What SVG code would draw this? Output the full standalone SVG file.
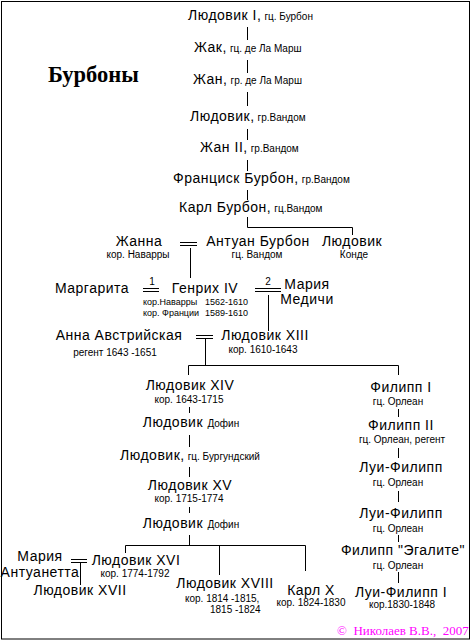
<svg xmlns="http://www.w3.org/2000/svg" width="473" height="642" viewBox="0 0 473 642">
<style>
.n{font-family:"Liberation Sans",Arial,sans-serif;font-size:14px;letter-spacing:0.5px;fill:#000}
.s{font-family:"Liberation Sans",Arial,sans-serif;font-size:10px;letter-spacing:0;fill:#000}
.xs{font-size:9px}
.m{text-anchor:middle}
.e{text-anchor:end}
.title{font-family:"Liberation Serif","Times New Roman",serif;font-size:22.5px;font-weight:bold;fill:#000}
.copy{font-family:"Liberation Serif","Times New Roman",serif;font-size:13px;fill:#f0f}
.ln{stroke:#000;stroke-width:1;fill:none}
</style>
<rect x="1.5" y="1.5" width="468" height="637.5" fill="#fff" stroke="#000" stroke-width="1"/>
<text class="title" x="48" y="82">Бурбоны</text>

<g id="connectors" class="ln">
<path d="M247.5 27V40M247.5 60V73M247.5 92V106M247.5 129V140M247.5 160V171M247.5 190V200M247.5 217V227.5H352.5V235"/>
<path d="M180 242.5H197M180 245.5H197M190.5 248V278"/>
<path d="M143 288.5H159M143 291.5H159"/>
<path d="M255 288.5H281M255 291.5H281M268.5 295V331"/>
<path d="M196 335.5H213M196 338.5H213M205.5 339V365.5"/>
<path d="M188.5 375V365.5H398.5V375"/>
<path d="M189.5 407V413M189.5 435V447M189.5 467V477M189.5 507V513M189.5 535V545.5"/>
<path d="M125.5 553V545.5H305.5V571M219.5 545.5V575"/>
<path d="M71 559.5H87M71 562.5H87M80.5 563V585"/>
<path d="M398.5 409V417M398.5 448V458M398.5 491V502M398.5 535V542M398.5 572V583"/>
</g>

<g id="ludovik1"><text class="n" x="188" y="20">Людовик I,<tspan class="s" dx="3">гц. Бурбон</tspan></text></g>
<g id="zhak"><text class="n" x="194" y="52">Жак,<tspan class="s" dx="3">гц. де Ла Марш</tspan></text></g>
<g id="zhan"><text class="n" x="193" y="84">Жан,<tspan class="s" dx="3">гр. де Ла Марш</tspan></text></g>
<g id="ludovik-vandom"><text class="n" x="190" y="121">Людовик,<tspan class="s" dx="3">гр.Вандом</tspan></text></g>
<g id="zhan2"><text class="n" x="200" y="152">Жан II,<tspan class="s" dx="3">гр.Вандом</tspan></text></g>
<g id="francisk"><text class="n" x="173" y="183">Франциск Бурбон,<tspan class="s" dx="3">гр.Вандом</tspan></text></g>
<g id="karl"><text class="n" x="179" y="212">Карл Бурбон,<tspan class="s" dx="3">гц.Вандом</tspan></text></g>

<g id="zhanna"><text class="n m" x="139" y="246">Жанна</text><text class="s m" x="138" y="258">кор. Наварры</text></g>
<g id="antuan"><text class="n m" x="258" y="246">Антуан Бурбон</text><text class="s m" x="257" y="258">гц. Вандом</text></g>
<g id="ludovik-konde"><text class="n m" x="352" y="246">Людовик</text><text class="s m" x="354" y="258">Конде</text></g>

<g id="margarita"><text class="n m" x="92" y="293">Маргарита</text><text class="s m" x="152" y="285">1</text></g>
<g id="genrih4"><text class="n m" x="205" y="293">Генрих IV</text><text class="s xs" x="143" y="305">кор.Наварры</text><text class="s xs e" x="248" y="305">1562-1610</text><text class="s xs" x="143" y="316">кор. Франции</text><text class="s xs e" x="248" y="316">1589-1610</text></g>
<g id="maria-medichi"><text class="s m" x="268" y="285">2</text><text class="n m" x="307" y="289">Мария</text><text class="n m" x="307" y="304">Медичи</text></g>

<g id="anna"><text class="n m" x="119" y="340">Анна Австрийская</text><text class="s m" x="115" y="356">регент 1643 -1651</text></g>
<g id="ludovik13"><text class="n m" x="265" y="340">Людовик XIII</text><text class="s m" x="263" y="353">кор. 1610-1643</text></g>

<g id="ludovik14"><text class="n m" x="190" y="390">Людовик XIV</text><text class="s m" x="189" y="403">кор. 1643-1715</text></g>
<g id="ludovik-dofin1"><text class="n m" x="191" y="427">Людовик <tspan class="s">Дофин</tspan></text></g>
<g id="ludovik-burg"><text class="n m" x="190" y="460">Людовик,<tspan class="s" dx="3">гц. Бургундский</tspan></text></g>
<g id="ludovik15"><text class="n m" x="190" y="490">Людовик XV</text><text class="s m" x="189" y="502">кор. 1715-1774</text></g>
<g id="ludovik-dofin2"><text class="n m" x="191" y="528">Людовик <tspan class="s">Дофин</tspan></text></g>

<g id="maria-antuanetta"><text class="n m" x="40" y="561">Мария</text><text class="n m" x="40" y="577">Антуанетта</text></g>
<g id="ludovik16"><text class="n m" x="136" y="565">Людовик XVI</text><text class="s m" x="135" y="577">кор. 1774-1792</text></g>
<g id="ludovik17"><text class="n m" x="80" y="595">Людовик XVII</text></g>
<g id="ludovik18"><text class="n m" x="225" y="588">Людовик XVIII</text><text class="s" x="185" y="602">кор. 1814</text><text class="s" x="231" y="602">-1815,</text><text class="s" x="210" y="613">1815 -1824</text></g>
<g id="karl10"><text class="n m" x="311" y="595">Карл X</text><text class="s m" x="311" y="606">кор. 1824-1830</text></g>

<g id="filipp1"><text class="n m" x="401" y="392">Филипп I</text><text class="s m" x="398" y="405">гц. Орлеан</text></g>
<g id="filipp2"><text class="n m" x="401" y="430">Филипп II</text><text class="s m" x="402" y="443">гц. Орлеан, регент</text></g>
<g id="lui-filipp1"><text class="n m" x="401" y="472">Луи-Филипп</text><text class="s m" x="398" y="486">гц. Орлеан</text></g>
<g id="lui-filipp2"><text class="n m" x="401" y="518">Луи-Филипп</text><text class="s m" x="398" y="532">гц. Орлеан</text></g>
<g id="filipp-egalite"><text class="n m" x="403" y="555">Филипп "Эгалите"</text><text class="s m" x="398" y="569">гц. Орлеан</text></g>
<g id="lui-filipp-i"><text class="n m" x="401" y="597">Луи-Филипп I</text><text class="s m" x="402" y="608">кор.1830-1848</text></g>

<text class="copy" x="337" y="635" xml:space="preserve">©  Николаев В.В.,  2007</text>
</svg>
